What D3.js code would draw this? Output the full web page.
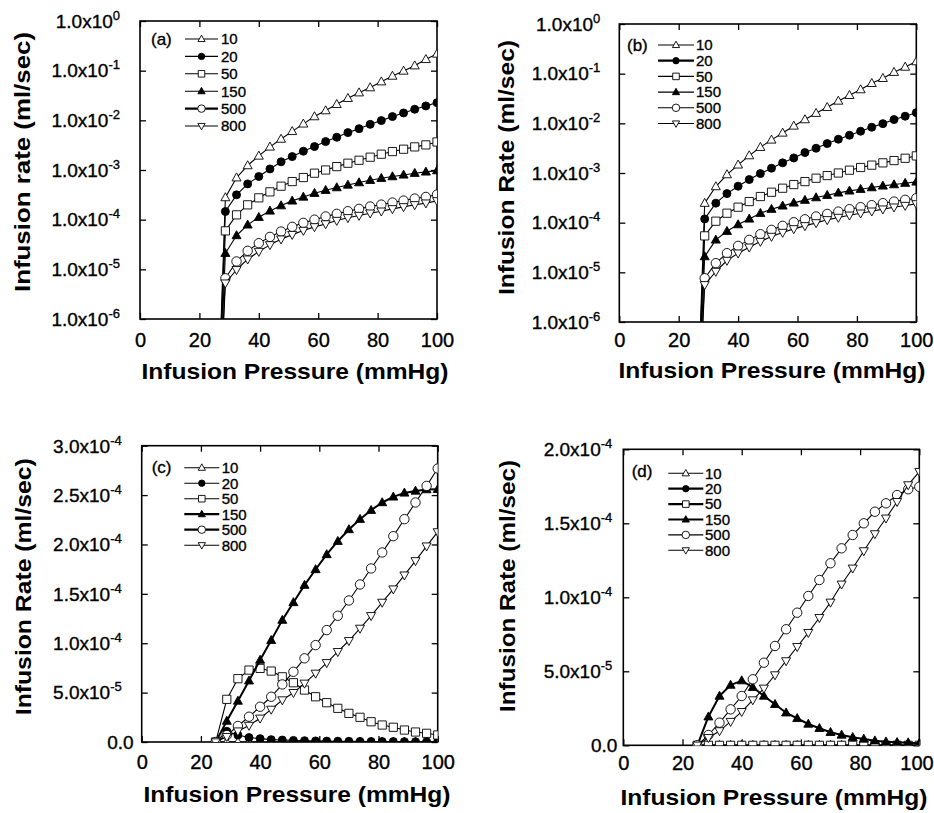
<!DOCTYPE html>
<html><head><meta charset="utf-8">
<script src="https://cdn.jsdelivr.net/npm/d3@7"></script>
<style>
body{margin:0;background:#fff;}
svg text{font-family:"Liberation Sans",Arial,Helvetica,sans-serif;fill:#000;}
svg text.reg{stroke:#000;stroke-width:0.35px;}
</style></head><body>
<svg id="chart" width="934" height="813"></svg>
<script>
// ---------- data ----------
const pressure = [25, 28.75, 32.5, 36.25, 40, 43.75, 47.5, 51.25, 55, 58.75, 62.5, 66.25, 70, 73.75, 77.5, 81.25, 85, 88.75, 92.5, 96.25, 100];
const seriesNames = ["10", "20", "50", "150", "500", "800"];
const xTicks = [0, 20, 40, 60, 80, 100];
const logTicks = [1e0, 1e-1, 1e-2, 1e-3, 1e-4, 1e-5, 1e-6];
const linTicksC = [0, 5e-5, 1e-4, 1.5e-4, 2e-4, 2.5e-4, 3e-4];
const linTicksD = [0, 5e-5, 1e-4, 1.5e-4, 2e-4];
const panelTags = ["(a)", "(b)", "(c)", "(d)"];
const xTitle = "Infusion Pressure (mmHg)";
const yTitles = ["Infusion rate (ml/sec)", "Infusion Rate (ml/sec)", "Infusion Rate (ml/sec)", "Infusion Rate (ml/sec)"];

// panel (a)
const a10  = [1e-10, 2.79e-4, 7.0e-4, 1.23e-3, 1.92e-3, 2.92e-3, 4.2e-3, 6.0e-3, 8.5e-3, 1.19e-2, 1.57e-2, 2.1e-2, 2.78e-2, 3.6e-2, 4.56e-2, 6.0e-2, 7.8e-2, 9.86e-2, 0.126, 0.169, 0.217];
const a20  = [1e-10, 1.46e-4, 3.16e-4, 5.25e-4, 7.4e-4, 1.05e-3, 1.46e-3, 1.86e-3, 2.39e-3, 2.96e-3, 3.73e-3, 4.56e-3, 5.66e-3, 6.8e-3, 8.3e-3, 9.87e-3, 1.19e-2, 1.41e-2, 1.67e-2, 1.95e-2, 2.27e-2];
const a50  = [1e-10, 5.95e-5, 1.25e-4, 1.99e-4, 2.75e-4, 3.63e-4, 4.72e-4, 5.85e-4, 7.05e-4, 8.63e-4, 1.0e-3, 1.17e-3, 1.37e-3, 1.57e-3, 1.81e-3, 2.08e-3, 2.35e-3, 2.62e-3, 2.92e-3, 3.2e-3, 3.67e-3];
const a150 = [1e-10, 2.11e-5, 4.8e-5, 7.86e-5, 1.12e-4, 1.5e-4, 1.92e-4, 2.39e-4, 2.87e-4, 3.41e-4, 3.92e-4, 4.43e-4, 5.0e-4, 5.58e-4, 6.22e-4, 6.83e-4, 7.38e-4, 7.96e-4, 8.63e-4, 9.16e-4, 9.73e-4];
const a500 = [1e-10, 6.6e-6, 1.44e-5, 2.36e-5, 3.36e-5, 4.5e-5, 5.77e-5, 7.17e-5, 8.62e-5, 1.0e-4, 1.16e-4, 1.31e-4, 1.48e-4, 1.65e-4, 1.84e-4, 2.01e-4, 2.21e-4, 2.42e-4, 2.66e-4, 2.87e-4, 3.2e-4];
const a800 = [1e-10, 5.27e-6, 9.8e-6, 1.6e-5, 2.28e-5, 3.11e-5, 4.05e-5, 5.0e-5, 6.04e-5, 7.16e-5, 8.2e-5, 9.6e-5, 1.09e-4, 1.21e-4, 1.35e-4, 1.48e-4, 1.65e-4, 1.81e-4, 1.99e-4, 2.15e-4, 2.39e-4];

// panel (b)
const b10  = [1e-10, 2.47e-4, 5.34e-4, 9.3e-4, 1.46e-3, 2.24e-3, 3.3e-3, 4.64e-3, 6.41e-3, 8.87e-3, 1.19e-2, 1.6e-2, 2.1e-2, 2.82e-2, 3.67e-2, 4.78e-2, 6.4e-2, 8.07e-2, 0.107, 0.136, 0.175];
const b20  = [1e-10, 1.19e-4, 2.47e-4, 3.85e-4, 5.42e-4, 7.38e-4, 9.73e-4, 1.25e-3, 1.6e-3, 2.01e-3, 2.58e-3, 3.15e-3, 3.91e-3, 4.79e-3, 5.76e-3, 6.93e-3, 8.34e-3, 9.86e-3, 1.19e-2, 1.39e-2, 1.64e-2];
const b50  = [1e-10, 5.42e-5, 1.07e-4, 1.55e-4, 2.05e-4, 2.66e-4, 3.36e-4, 4.1e-4, 4.94e-4, 5.85e-4, 6.72e-4, 7.85e-4, 8.87e-4, 1.0e-3, 1.14e-3, 1.29e-3, 1.44e-3, 1.6e-3, 1.78e-3, 1.98e-3, 2.21e-3];
const b150 = [1e-10, 2.08e-5, 4.5e-5, 6.73e-5, 9.16e-5, 1.19e-4, 1.55e-4, 1.87e-4, 2.18e-4, 2.5e-4, 2.84e-4, 3.2e-4, 3.57e-4, 3.98e-4, 4.37e-4, 4.72e-4, 5.09e-4, 5.5e-4, 5.85e-4, 6.24e-4, 6.62e-4];
const b500 = [1e-10, 7.6e-6, 1.53e-5, 2.43e-5, 3.41e-5, 4.5e-5, 5.86e-5, 7.16e-5, 8.63e-5, 1.02e-4, 1.17e-4, 1.33e-4, 1.5e-4, 1.67e-4, 1.87e-4, 2.05e-4, 2.25e-4, 2.47e-4, 2.66e-4, 2.88e-4, 3.11e-4];
const b800 = [1e-10, 5.6e-6, 1.04e-5, 1.73e-5, 2.43e-5, 3.2e-5, 4.17e-5, 5.26e-5, 6.33e-5, 7.5e-5, 8.63e-5, 9.9e-5, 1.14e-4, 1.27e-4, 1.41e-4, 1.55e-4, 1.7e-4, 1.87e-4, 2.05e-4, 2.21e-4, 2.39e-4];

// panel (c)
const c10  = [0, 0, 0, 0, 0, 0, 0, 0, 0, 0, 0, 0, 0, 0, 0, 0, 0, 0, 0, 0, 0];
const c20  = [0, 1.08e-5, 7.0e-6, 4.5e-6, 3.4e-6, 2.4e-6, 2.0e-6, 1.6e-6, 1.3e-6, 1.1e-6, 0.9e-6, 0.8e-6, 0.7e-6, 0.6e-6, 0.5e-6, 0.45e-6, 0.4e-6, 0.35e-6, 0.3e-6, 0.3e-6, 0.25e-6];
const c50  = [0, 4.32e-5, 6.41e-5, 7.28e-5, 7.45e-5, 7.18e-5, 6.6e-5, 6.0e-5, 5.26e-5, 4.58e-5, 3.98e-5, 3.41e-5, 2.9e-5, 2.5e-5, 2.05e-5, 1.72e-5, 1.49e-5, 1.21e-5, 1.01e-5, 8.8e-6, 7.1e-6];
const c150 = [0, 2.12e-5, 4.15e-5, 6.2e-5, 8.3e-5, 1.03e-4, 1.234e-4, 1.413e-4, 1.588e-4, 1.747e-4, 1.899e-4, 2.033e-4, 2.152e-4, 2.256e-4, 2.347e-4, 2.425e-4, 2.482e-4, 2.522e-4, 2.542e-4, 2.556e-4, 2.559e-4];
const c500 = [0, 7.0e-6, 1.62e-5, 2.56e-5, 3.57e-5, 4.58e-5, 5.83e-5, 7.11e-5, 8.47e-5, 9.81e-5, 1.133e-4, 1.278e-4, 1.433e-4, 1.595e-4, 1.757e-4, 1.919e-4, 2.084e-4, 2.256e-4, 2.425e-4, 2.593e-4, 2.769e-4];
const c800 = [0, 5.4e-6, 1.1e-5, 1.67e-5, 2.4e-5, 3.3e-5, 4.25e-5, 4.99e-5, 5.94e-5, 6.95e-5, 8.02e-5, 9.14e-5, 1.025e-4, 1.15e-4, 1.278e-4, 1.413e-4, 1.548e-4, 1.689e-4, 1.834e-4, 1.983e-4, 2.127e-4];

// panel (d)
const d10  = [0, 0, 0, 0, 0, 0, 0, 0, 0, 0, 0, 0, 0, 0, 0, 0, 0, 0, 0, 0, 0];
const d20  = [0, 0, 0, 0, 0, 0, 0, 0, 0, 0, 0, 0, 0, 0, 0, 0, 0, 0, 0, 0, 0];
const d50  = [0, 0, 0, 0, 0, 0, 0, 0, 0, 0, 0, 0, 0, 0, 0, 0, 0, 0, 0, 0, 0];
const d150 = [0, 1.93e-5, 3.33e-5, 4.07e-5, 4.37e-5, 3.92e-5, 3.33e-5, 2.77e-5, 2.2e-5, 1.82e-5, 1.44e-5, 1.15e-5, 8.8e-6, 7.0e-6, 5.4e-6, 4.3e-6, 3.1e-6, 2.4e-6, 2.0e-6, 1.8e-6, 1.35e-6];
const d500 = [0, 6.96e-6, 1.53e-5, 2.43e-5, 3.33e-5, 4.46e-5, 5.58e-5, 6.71e-5, 7.84e-5, 8.96e-5, 1.009e-4, 1.117e-4, 1.23e-4, 1.331e-4, 1.421e-4, 1.5e-4, 1.578e-4, 1.635e-4, 1.691e-4, 1.73e-4, 1.747e-4];
const d800 = [0, 5.1e-6, 9.7e-6, 1.6e-5, 2.27e-5, 3.06e-5, 3.85e-5, 4.75e-5, 5.7e-5, 6.66e-5, 7.61e-5, 8.62e-5, 9.66e-5, 1.088e-4, 1.196e-4, 1.313e-4, 1.428e-4, 1.534e-4, 1.646e-4, 1.759e-4, 1.849e-4];

// ---------- layout ----------
const panels = [
  {tag: 0, series: [a10, a20, a50, a150, a500, a800], log: true, yDomain: [1e-6, 1], yTicks: logTicks,
   L: 140, R: 437, T: 21, B: 319, gapSup: 20, gapPlain: 8, xLabOff: 21,
   xtC: 295, xtY: 379, ytX: 30, ytC: 162, ytLen: 260,
   tagX: 151, tagY: 39, lgX1: 185, lgX2: 218, lgLab: 221, lgY0: 39, lgDy: 17.4,
   thickLegend: ["500"], thickLine: []},
  {tag: 1, series: [b10, b20, b50, b150, b500, b800], log: true, yDomain: [1e-6, 1], yTicks: logTicks,
   L: 619.3, R: 916.3, T: 24, B: 322, gapSup: 19, gapPlain: 8, xLabOff: 18,
   xtC: 772, xtY: 378, ytX: 514, ytC: 167.5, ytLen: 255,
   tagX: 627, tagY: 44.5, lgX1: 658, lgX2: 694, lgLab: 696, lgY0: 45, lgDy: 15.7,
   thickLegend: ["20"], thickLine: []},
  {tag: 2, series: [c10, c20, c50, c150, c500, c800], log: false, yDomain: [0, 3e-4], yTicks: linTicksC,
   L: 141.7, R: 437.7, T: 445.7, B: 742, gapSup: 20, gapPlain: 8, xLabOff: 20,
   xtC: 297, xtY: 801.7, ytX: 31, ytC: 586.7, ytLen: 257,
   tagX: 151.7, tagY: 466.7, lgX1: 184.3, lgX2: 219.3, lgLab: 221.7, lgY0: 467.7, lgDy: 15.5,
   thickLegend: ["150", "500"], thickLine: ["150"]},
  {tag: 3, series: [d10, d20, d50, d150, d500, d800], log: false, yDomain: [0, 2e-4], yTicks: linTicksD,
   L: 623.3, R: 919.3, T: 449.3, B: 745.3, gapSup: 11, gapPlain: 6, xLabOff: 18,
   xtC: 774, xtY: 805, ytX: 515, ytC: 586, ytLen: 252,
   tagX: 631.7, tagY: 470.7, lgX1: 668.3, lgX2: 703.3, lgLab: 705, lgY0: 473.3, lgDy: 15.4,
   thickLegend: ["20", "50", "150"], thickLine: ["150"]}
];

// marker styles per series
const markerKind = {"10": "tri", "20": "dot", "50": "sq", "150": "triF", "500": "circ", "800": "tdown"};

function markerPath(kind, s) {
  if (kind === "tri" || kind === "triF") {
    return `M0,${-4.8*s}L${4.5*s},${3.2*s}L${-4.5*s},${3.2*s}Z`;
  }
  if (kind === "tdown") {
    return `M0,${4.8*s}L${4.5*s},${-3.2*s}L${-4.5*s},${-3.2*s}Z`;
  }
  if (kind === "sq") {
    const h = 4.1*s;
    return `M${-h},${-h}H${h}V${h}H${-h}Z`;
  }
  const r = (kind === "dot" ? 4.0 : 4.7) * s;
  return `M${r},0A${r},${r} 0 1,1 ${-r},0A${r},${r} 0 1,1 ${r},0Z`;
}
function markerFill(kind) { return (kind === "dot" || kind === "triF") ? "#000" : "#fff"; }

function expLabel(v) {
  if (v === 0) return {base: "0.0", sup: null};
  const e = Math.floor(Math.log10(v) + 1e-9);
  const m = v / Math.pow(10, e);
  return {base: m.toFixed(1) + "x10", sup: String(e)};
}

const svg = d3.select("#chart");
svg.append("rect").attr("width", 934).attr("height", 813).attr("fill", "#fff");

panels.forEach((p, pi) => {
  const g = svg.append("g");
  const x = d3.scaleLinear().domain([0, 100]).range([p.L, p.R]);
  const y = (p.log ? d3.scaleLog() : d3.scaleLinear()).domain(p.yDomain).range([p.B, p.T]);

  const clipId = "clip" + pi;
  g.append("clipPath").attr("id", clipId).append("rect")
    .attr("x", p.L).attr("y", p.T).attr("width", p.R - p.L).attr("height", p.B - p.T);

  // axes (inward ticks)
  const tickStyle = sel => { sel.select(".domain").remove(); sel.selectAll("line").attr("stroke", "#000").attr("stroke-width", 1.3); };
  const xb = g.append("g").attr("transform", `translate(0,${p.B})`)
    .call(d3.axisBottom(x).tickValues(xTicks).tickSizeInner(-6).tickSizeOuter(0).tickPadding(p.xLabOff).tickFormat(d3.format("d")));
  tickStyle(xb);
  xb.selectAll("text").attr("class", "reg").attr("font-size", 20).attr("y", p.xLabOff).attr("dy", "0.36em")
    .attr("fill", "#000")
    .style("font-family", '"Liberation Sans",Arial,sans-serif')
    .attr("x", function(d) { const cx = x(d); return Math.min(cx + 16.5, 933) - 16.5 - cx; });
  const xt = g.append("g").attr("transform", `translate(0,${p.T})`)
    .call(d3.axisTop(x).tickValues(xTicks).tickSizeInner(-6).tickSizeOuter(0).tickFormat(""));
  tickStyle(xt);
  const yl = g.append("g").attr("transform", `translate(${p.L},0)`)
    .call(d3.axisLeft(y).tickValues(p.yTicks).tickSizeInner(-6).tickSizeOuter(0).tickFormat(""));
  tickStyle(yl);
  const yr = g.append("g").attr("transform", `translate(${p.R},0)`)
    .call(d3.axisRight(y).tickValues(p.yTicks).tickSizeInner(-6).tickSizeOuter(0).tickFormat(""));
  tickStyle(yr);

  // y tick labels with superscripts
  p.yTicks.forEach(v => {
    const lab = expLabel(v);
    const t = g.append("text").attr("class", "reg").attr("text-anchor", "end")
      .attr("x", p.L - (lab.sup ? p.gapSup : p.gapPlain))
      .attr("y", y(v) + 6.8).attr("font-size", 19);
    t.append("tspan").text(lab.base);
    if (lab.sup) t.append("tspan").attr("font-size", 13).attr("dy", -8).text(lab.sup);
  });

  // frame
  g.append("rect").attr("x", p.L).attr("y", p.T).attr("width", p.R - p.L).attr("height", p.B - p.T)
    .attr("fill", "none").attr("stroke", "#000").attr("stroke-width", 1.6);

  // data
  const plot = g.append("g").attr("clip-path", `url(#${clipId})`);
  const line = d3.line().x(d => x(d[0])).y(d => y(d[1]));
  seriesNames.forEach((name, si) => {
    const vals = p.series[si];
    const pts = pressure.map((px, i) => [px, vals[i]]);
    plot.append("path").datum(pts).attr("d", line).attr("fill", "none").attr("stroke", "#000")
      .attr("stroke-width", p.thickLine.includes(name) ? 2 : 1.1).attr("stroke-linejoin", "round");
    const kind = markerKind[name];
    const shown = pts.filter(d => d[1] >= p.yDomain[0] && d[1] <= p.yDomain[1]);
    plot.selectAll(null).data(shown).enter().append("path")
      .attr("transform", d => `translate(${x(d[0])},${y(d[1])})`)
      .attr("d", markerPath(kind, 1)).attr("fill", markerFill(kind)).attr("stroke", "#000").attr("stroke-width", 0.9);
  });

  // legend
  g.append("text").attr("class", "reg").attr("x", p.tagX).attr("y", p.tagY + 6).attr("font-size", 17).text(panelTags[p.tag]);
  seriesNames.forEach((name, si) => {
    const yy = p.lgY0 + si * p.lgDy;
    g.append("line").attr("x1", p.lgX1).attr("x2", p.lgX2).attr("y1", yy).attr("y2", yy)
      .attr("stroke", "#000").attr("stroke-width", p.thickLegend.includes(name) ? 2.2 : 1.1);
    const kind = markerKind[name];
    g.append("path").attr("transform", `translate(${(p.lgX1 + p.lgX2) / 2},${yy})`)
      .attr("d", markerPath(kind, 0.8)).attr("fill", markerFill(kind)).attr("stroke", "#000").attr("stroke-width", 0.9);
    g.append("text").attr("class", "reg").attr("x", p.lgLab).attr("y", yy + 5.3).attr("font-size", 15).text(name);
  });

  // axis titles
  g.append("text").attr("x", p.xtC).attr("y", p.xtY).attr("text-anchor", "middle")
    .attr("font-size", 22.5).attr("font-weight", "bold")
    .attr("textLength", 307).attr("lengthAdjust", "spacingAndGlyphs").text(xTitle);
  g.append("text").attr("transform", `translate(${p.ytX},${p.ytC}) rotate(-90)`).attr("text-anchor", "middle")
    .attr("font-size", 22.5).attr("font-weight", "bold")
    .attr("textLength", p.ytLen).attr("lengthAdjust", "spacingAndGlyphs").text(yTitles[p.tag]);
});
</script>
</body></html>
